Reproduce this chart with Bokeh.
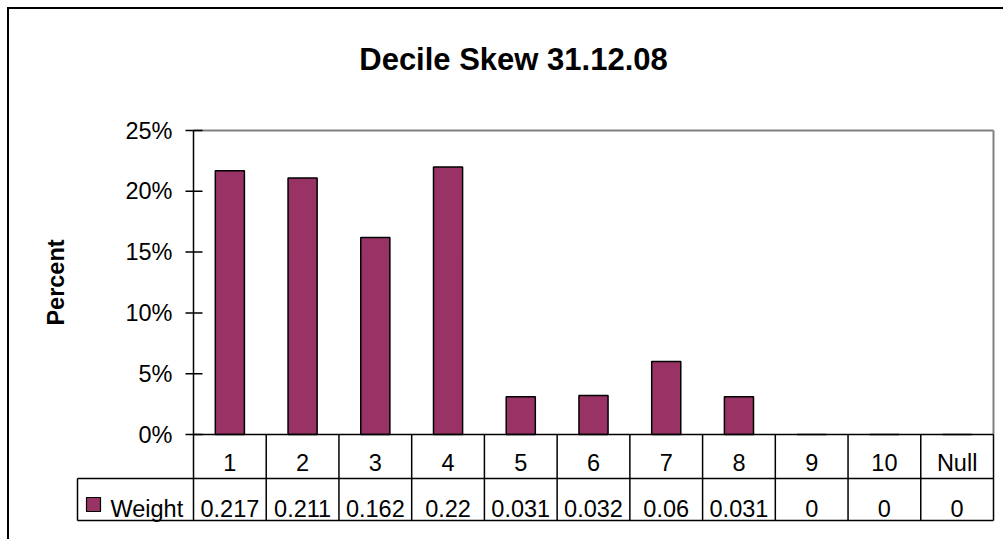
from bokeh.plotting import figure
from bokeh.models import Range1d, ColumnDataSource
from bokeh.embed import file_html
from bokeh.resources import INLINE
from bokeh.core.properties import value

# ---------------- data ----------------
title_text = "Decile Skew 31.12.08"
categories = ["1", "2", "3", "4", "5", "6", "7", "8", "9", "10", "Null"]
weights = [0.217, 0.211, 0.162, 0.22, 0.031, 0.032, 0.06, 0.031, 0, 0, 0]
y_ticks = [0, 0.05, 0.10, 0.15, 0.20, 0.25]
y_tick_labels = ["0%", "5%", "10%", "15%", "20%", "25%"]
y_label = "Percent"
series_name = "Weight"

# ---------------- style / layout (pixel geometry) ----------------
FONT = "Liberation Sans"
BAR = "#993366"
TXT = "23.5px"

W, H = 1003, 539
PL, PR = 193, 993          # plot area / table left & right (px)
Y0, YTOP = 434, 130        # px of 0 and of the top tick
R1, R2 = 478, 520          # table row separators (px)
LEG_L = 77                 # left edge of the legend cell of the table
n = len(categories)
px_x = (PR - PL) / n
px_y = (Y0 - YTOP) / max(y_ticks)


def dx(px):
    return 0.5 + (px - PL) / px_x


def dy(py):
    return (Y0 - py) / px_y


p = figure(width=W, height=H, output_backend="svg", toolbar_location=None, tools="",
           x_range=Range1d(dx(0), dx(W)), y_range=Range1d(dy(H), dy(0)),
           x_axis_type=None, y_axis_type=None, min_border=0)
p.outline_line_color = None
p.background_fill_color = "white"
p.border_fill_color = "white"

xs = list(range(1, n + 1))
top = max(y_ticks)
right = n + 0.5

# outer chart border (left & top visible)
p.segment(x0=[dx(7.5), dx(6.5)], y0=[dy(6.5), dy(7.5)], x1=[dx(7.5), dx(W + 5)], y1=[dy(H + 5), dy(7.5)],
          line_color="black", line_width=2)

# plot-area border (gray top/right)
p.segment(x0=[0.5, right], y0=[top, 0], x1=[right, right], y1=[top, top],
          line_color="#808080", line_width=2)

# bars
src = ColumnDataSource(dict(x=xs, top=weights, cat=categories,
                            lab=[f"{v:g}" for v in weights]))
p.vbar(x="x", top="top", bottom=0, width=0.4, source=src,
       fill_color=BAR, line_color="black", line_width=1.5)

# value axis: line, crossing ticks, labels, title
p.segment(x0=[0.5], y0=[top], x1=[0.5], y1=[dy(R2)], line_color="black", line_width=1.5)
tick_src = ColumnDataSource(dict(y=y_ticks, lab=y_tick_labels))
p.segment(x0=dx(185), y0="y", x1=dx(202), y1="y", source=tick_src, line_color="black", line_width=1.5)
p.text(x=dx(172), y="y", text="lab", source=tick_src, text_align="right", text_baseline="middle",
       text_font=value(FONT), text_font_size=TXT, text_color="black")
p.text(x=[dx(55)], y=[top / 2], text=[y_label], angle=1.5707963, text_align="center",
       text_baseline="alphabetic", text_font=value(FONT), text_font_size=TXT,
       text_font_style="bold", text_color="black")

# chart title
p.text(x=[dx(513)], y=[dy(59)], text=[title_text], text_align="center", text_baseline="alphabetic",
       text_font=value(FONT), text_font_size="31px", text_font_style="bold", text_color="black")

# data table grid
vx = [i + 0.5 for i in xs]
p.segment(x0=vx, y0=[0] * n, x1=vx, y1=[dy(R2)] * n, line_color="black", line_width=1.5)
p.segment(x0=[0.5, dx(LEG_L), dx(LEG_L), dx(LEG_L)], y0=[0, dy(R1), dy(R2), dy(R1)],
          x1=[right, right, right, dx(LEG_L)], y1=[0, dy(R1), dy(R2), dy(R2)],
          line_color="black", line_width=1.5)

# table text
p.text(x="x", y=dy(462), text="cat", source=src, text_align="center", text_baseline="alphabetic",
       text_font=value(FONT), text_font_size=TXT, text_color="black")
p.text(x="x", y=dy(508), text="lab", source=src, text_align="center", text_baseline="alphabetic",
       text_font=value(FONT), text_font_size=TXT, text_color="black")

# legend key of the table
p.quad(left=[dx(86)], right=[dx(100)], top=[dy(497)], bottom=[dy(511)],
       fill_color=BAR, line_color="black", line_width=1.2)
p.text(x=[dx(110)], y=[dy(508)], text=[series_name], text_align="left", text_baseline="alphabetic",
       text_font=value(FONT), text_font_size=TXT, text_color="black")

open("out.html", "w").write(file_html(p, INLINE))
